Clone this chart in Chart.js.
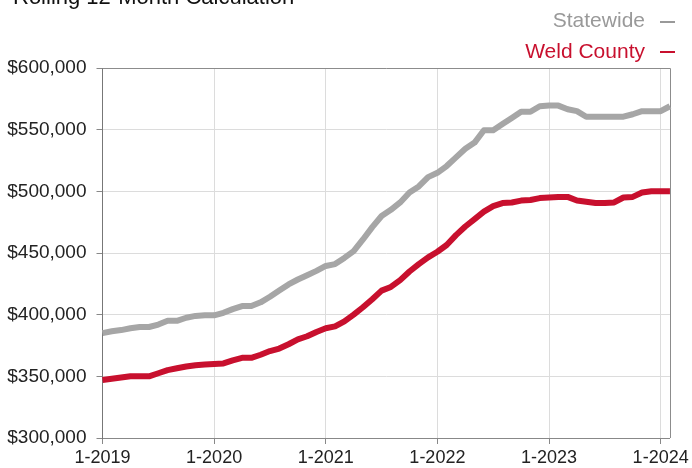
<!DOCTYPE html>
<html>
<head>
<meta charset="utf-8">
<script src="https://cdn.jsdelivr.net/npm/chart.js@4.4.1/dist/chart.umd.min.js"></script>
<style>
html, body { margin: 0; padding: 0; background: #fff; }
#wrap { position: relative; width: 692px; height: 468px; overflow: hidden; font-family: 'Liberation Sans', Arial, sans-serif; }
#title { position: absolute; left: 13px; top: -14px; font-size: 22px; line-height: 22px; color: #111; white-space: nowrap; }
.leg { position: absolute; right: 47px; font-size: 21px; line-height: 21px; white-space: nowrap; }
.dash { position: absolute; left: 660px; width: 15px; height: 2px; }
canvas { position: absolute; left: 0; top: 0; }
</style>
</head>
<body>
<div id="wrap">
  <canvas id="myChart" width="692" height="468"></canvas>
  <div id="title">Rolling 12-Month Calculation</div>
  <div class="leg" style="top:9px;color:#999999">Statewide</div>
  <div class="dash" style="top:21px;background:#999999"></div>
  <div class="leg" style="top:40px;color:#c8102e">Weld County</div>
  <div class="dash" style="top:51px;background:#c8102e"></div>
</div>
<script>
'use strict';

// monthly, 1-2019 .. 2-2024
var months = [
    '1-2019', '2-2019', '3-2019', '4-2019', '5-2019', '6-2019', '7-2019', '8-2019', '9-2019', '10-2019', '11-2019', '12-2019',
    '1-2020', '2-2020', '3-2020', '4-2020', '5-2020', '6-2020', '7-2020', '8-2020', '9-2020', '10-2020', '11-2020', '12-2020',
    '1-2021', '2-2021', '3-2021', '4-2021', '5-2021', '6-2021', '7-2021', '8-2021', '9-2021', '10-2021', '11-2021', '12-2021',
    '1-2022', '2-2022', '3-2022', '4-2022', '5-2022', '6-2022', '7-2022', '8-2022', '9-2022', '10-2022', '11-2022', '12-2022',
    '1-2023', '2-2023', '3-2023', '4-2023', '5-2023', '6-2023', '7-2023', '8-2023', '9-2023', '10-2023', '11-2023', '12-2023',
    '1-2024', '2-2024'
];

var statewide = [
    385000, 386500, 387500, 389000, 390000, 390000, 392000, 395000, 395000, 397500, 399000, 399500,
    399500, 401500, 404500, 407000, 407000, 410000, 414500, 419500, 424500, 428500, 432000, 435500,
    439500, 441000, 446000, 451500, 461000, 471000, 480000, 485000, 491000, 499000, 504000, 511500,
    515000, 520500, 527500, 534500, 539500, 549500, 549500, 554500, 559500, 564500, 564500, 569000,
    569500, 569500, 566500, 565000, 560500, 560500, 560500, 560500, 560500, 562500, 565000, 565000,
    565000, 569000
];

var weld = [
    347000, 348000, 349000, 350000, 350000, 350000, 352500, 355000, 356500, 358000, 359000, 359500,
    360000, 360500, 363000, 365000, 365000, 367500, 370500, 372500, 376000, 380000, 382500, 386000,
    389000, 390500, 394500, 400000, 406000, 412500, 419500, 422500, 428000, 435000, 441000, 446500,
    451000, 456500, 464500, 471500, 477500, 483500, 488000, 490500, 491000, 492500, 493000, 494500,
    495000, 495500, 495500, 492500, 491500, 490500, 490500, 491000, 495000, 495500, 499000, 500000,
    500000, 500000
];

var yTicks = [300000, 350000, 400000, 450000, 500000, 550000, 600000];

var frame = {
    id: 'frame',
    beforeDatasetsDraw: function (chart) {
        var ctx = chart.ctx, a = chart.chartArea;
        ctx.save();
        ctx.strokeStyle = '#8c8c8c';
        ctx.lineWidth = 1;
        ctx.beginPath();
        ctx.moveTo(a.left, Math.round(a.top) + 0.5);
        ctx.lineTo(Math.round(a.right) + 0.5, Math.round(a.top) + 0.5);
        ctx.lineTo(Math.round(a.right) + 0.5, a.bottom);
        ctx.stroke();
        ctx.restore();
    }
};

var ctx = document.getElementById('myChart').getContext('2d');
var myChart = new Chart(ctx, {
    type: 'line',
    data: {
        labels: months,
        datasets: [
            { label: 'Statewide', data: statewide, borderColor: '#a6a6a6' },
            { label: 'Weld County', data: weld, borderColor: '#c8102e' }
        ]
    },
    options: {
        responsive: false,
        animation: false,
        layout: { padding: { top: 68, right: 20, left: 0, bottom: 0 } },
        plugins: { legend: { display: false }, tooltip: { enabled: false } },
        elements: {
            point: { radius: 0 },
            line: { borderWidth: 6, tension: 0, borderJoinStyle: 'round', fill: false }
        },
        scales: {
            x: {
                grid: { color: '#dcdcdc', tickColor: '#888', tickLength: 6 },
                border: { color: '#888' },
                ticks: {
                    autoSkip: false, maxRotation: 0, padding: 3, color: '#222',
                    font: { family: "'Liberation Sans', Arial, sans-serif", size: 18 },
                    callback: function (v, i) { return i % 12 === 0 ? months[i] : null; }
                },
                afterFit: function (s) { s.height = 30; }
            },
            y: {
                min: 300000, max: 600000,
                afterBuildTicks: function (s) { s.ticks = yTicks.map(function (v) { return { value: v }; }); },
                grid: { color: '#dcdcdc', tickColor: '#888', tickLength: 6 },
                border: { color: '#777' },
                ticks: {
                    padding: 10, color: '#222',
                    font: { family: "'Liberation Sans', Arial, sans-serif", size: 19 },
                    callback: function (v) { return '$' + v.toLocaleString('en-US'); }
                },
                afterFit: function (s) { s.width = 102.5; }
            }
        }
    },
    plugins: [frame]
});
</script>
</body>
</html>
